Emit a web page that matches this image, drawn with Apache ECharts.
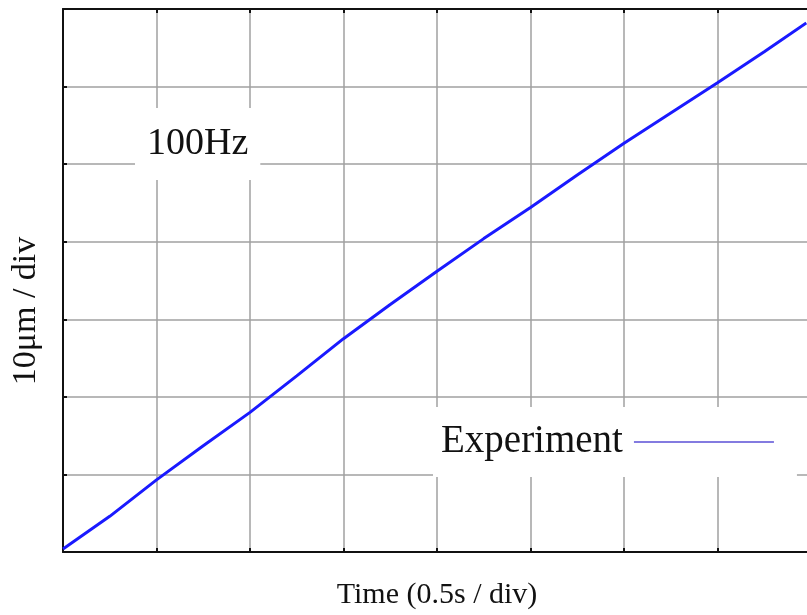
<!DOCTYPE html>
<html>
<head>
<meta charset="utf-8">
<script src="https://cdn.jsdelivr.net/npm/echarts@6/dist/echarts.min.js"></script>
<style>html,body{margin:0;padding:0;background:#fff}#c{width:807px;height:615px}</style>
</head>
<body>
<div id="c"></div>
<script>
// time in divisions (0.5 s / div)
var timeDiv = [0, 0.5, 1.0, 1.5, 2.0, 2.5, 3.0, 3.5, 4.0, 4.5, 5.0, 5.5, 6.0, 6.5, 7.0, 7.5, 7.95];
// displacement in divisions (10 um / div)
var dispDiv = [0.04, 0.46, 0.93, 1.37, 1.80, 2.27, 2.75, 3.19, 3.62, 4.04, 4.44, 4.86, 5.27, 5.66, 6.05, 6.45, 6.82];
var seriesName = 'Experiment';
var freqLabel = '100Hz';
var xName = 'Time (0.5s / div)';
var yName = '10\u03bcm / div';

var pts = timeDiv.map(function (t, i) { return [t, dispDiv[i]]; });
var FONT = '"Liberation Serif", "Times New Roman", serif';

var chart = echarts.init(document.getElementById('c'), null, {renderer: 'canvas'});
var axisLineStyle = {color: '#111', width: 2};
function tick() { return {show: true, inside: true, length: 4, lineStyle: {color: '#111', width: 2}}; }
chart.setOption({
  animation: false,
  backgroundColor: '#fff',
  grid: {left: 63, right: -4, top: 9, bottom: 63, containLabel: false, outerBoundsMode: 'none'},
  title: {
    text: freqLabel, left: 135, top: 108,
    backgroundColor: '#fff', padding: [14, 12, 14, 12],
    textStyle: {fontFamily: FONT, fontSize: 38, fontWeight: 'normal', color: '#111', lineHeight: 44}
  },
  legend: {
    data: [seriesName], left: 433, top: 407, align: 'right',
    backgroundColor: '#fff', padding: [13, 23, 13, 8],
    itemWidth: 140, itemHeight: 1.5, icon: 'rect',
    itemStyle: {color: '#5a4fd6'},
    textStyle: {fontFamily: FONT, fontSize: 39, color: '#111', lineHeight: 44, padding: [0, 6, 0, 0]}
  },
  xAxis: [{
    type: 'value', min: 0, max: 8, interval: 1,
    name: xName, nameLocation: 'middle', nameGap: 28,
    nameTextStyle: {fontFamily: FONT, fontSize: 30, color: '#111'},
    axisLine: {show: true, onZero: false, lineStyle: axisLineStyle},
    axisTick: tick(), axisLabel: {show: false},
    splitLine: {show: true, lineStyle: {color: '#a0a0a0', width: 1.5}}
  }, {
    type: 'value', position: 'top', min: 0, max: 8, interval: 1,
    axisLine: {show: true, onZero: false, lineStyle: axisLineStyle},
    axisTick: tick(), axisLabel: {show: false}, splitLine: {show: false}
  }],
  yAxis: [{
    type: 'value', min: 0, max: 7, interval: 1,
    axisLine: {show: true, onZero: false, lineStyle: axisLineStyle},
    axisTick: tick(), axisLabel: {show: false},
    splitLine: {show: true, lineStyle: {color: '#a0a0a0', width: 1.5}}
  }],
  graphic: [{
    type: 'text', x: 26, y: 311, rotation: Math.PI / 2,
    style: {text: yName, font: '34px ' + FONT, fill: '#111', align: 'center', verticalAlign: 'middle'}
  }],
  series: [{
    name: seriesName, type: 'line', data: pts, showSymbol: false, symbol: 'none',
    clip: true,
    lineStyle: {color: '#1a1aff', width: 3},
    itemStyle: {color: '#5a4fd6'}, z: 3
  }]
});
</script>
</body>
</html>
